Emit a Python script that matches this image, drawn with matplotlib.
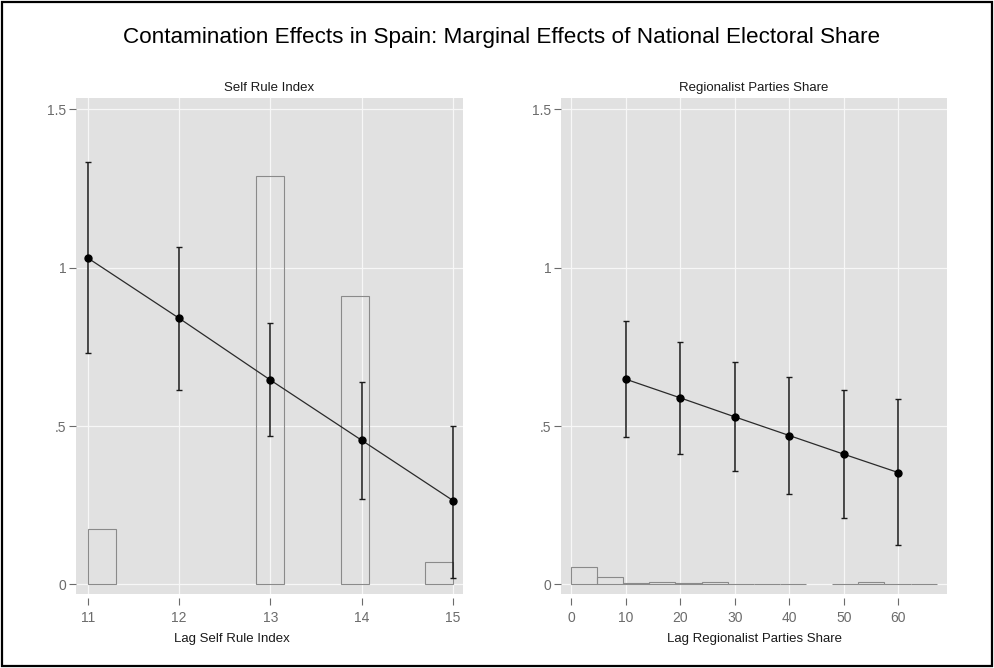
import matplotlib
matplotlib.use("Agg")
import matplotlib.pyplot as plt
import numpy as np
from matplotlib.patches import Rectangle

# ---- data ----
self_rule_x = [11, 12, 13, 14, 15]
self_rule_me = [1.03, 0.84, 0.645, 0.455, 0.265]
self_rule_lo = [0.73, 0.615, 0.47, 0.27, 0.02]
self_rule_hi = [1.332, 1.065, 0.825, 0.64, 0.50]
# histogram of lag self rule index: 13 bins over [11, 15]
self_rule_hist_range = (11, 15)
self_rule_hist = [0.175, 0, 0, 0, 0, 0, 1.29, 0, 0, 0.91, 0, 0, 0.07]

reg_x = [10, 20, 30, 40, 50, 60]
reg_me = [0.648, 0.589, 0.529, 0.470, 0.411, 0.353]
reg_lo = [0.464, 0.413, 0.357, 0.287, 0.211, 0.124]
reg_hi = [0.832, 0.764, 0.702, 0.655, 0.614, 0.584]
# histogram of lag regionalist share: 14 bins over [0, 67]
reg_hist_range = (0, 67)
reg_hist = [0.054, 0.023, 0.004, 0.008, 0.006, 0.008, 0.002,
            0.002, 0.001, 0.0, 0.002, 0.008, 0.002, 0.002]

y_ticks = [0, 0.5, 1, 1.5]
y_ticklabels = ["0", ".5", "1", "1.5"]

plt.rcParams["font.family"] = ["Liberation Sans", "DejaVu Sans"]

BG = "#e1e1e1"
TICK_COL = "#6b6b6b"


def draw_panel(ax, x, me, lo, hi, hist, hrange, xlim, xticks, title):
    ax.set_facecolor(BG)
    edges = np.linspace(hrange[0], hrange[1], len(hist) + 1)
    hist = np.asarray(hist, dtype=float)
    keep = hist > 0  # empty bins draw nothing
    ax.bar(edges[:-1][keep], hist[keep], width=np.diff(edges)[keep], align="edge",
           fill=False, edgecolor="#8a8a8a", linewidth=0.8, zorder=2)
    me = np.asarray(me)
    yerr = [me - np.asarray(lo), np.asarray(hi) - me]
    ax.errorbar(x, me, yerr=yerr, fmt="none", ecolor="#1a1a1a",
                elinewidth=1.1, capsize=2.5, capthick=1.0, zorder=3)
    ax.plot(x, me, color="#2a2a2a", lw=0.9, zorder=3)
    ax.plot(x, me, "o", color="black", ms=5, zorder=4)

    ax.set_xlim(*xlim)
    ax.set_ylim(-0.03, 1.535)
    ax.set_xticks(xticks)
    ax.set_yticks(y_ticks)
    ax.set_yticklabels(y_ticklabels)
    ax.grid(True, color="#f7f7f7", lw=0.9, zorder=0)
    ax.set_axisbelow(True)
    for s in ax.spines.values():
        s.set_visible(False)
    ax.spines["bottom"].set_position(("outward", 3))
    ax.tick_params(axis="both", colors=TICK_COL, labelsize=10,
                   length=5, width=0.8, direction="out")
    ax.tick_params(axis="x", pad=4)
    ax.tick_params(axis="y", pad=2)
    ax.set_title(title, fontsize=9.5, color="#1a1a1a", pad=5)


fig = plt.figure(figsize=(9.95, 6.68), dpi=100)
ax1 = fig.add_axes([76 / 995, 1 - 594 / 668, 387 / 995, 496 / 668])
ax2 = fig.add_axes([561 / 995, 1 - 594 / 668, 386 / 995, 496 / 668])

draw_panel(ax1, self_rule_x, self_rule_me, self_rule_lo, self_rule_hi,
           self_rule_hist, self_rule_hist_range, (10.87, 15.11),
           [11, 12, 13, 14, 15], "Self Rule Index")
draw_panel(ax2, reg_x, reg_me, reg_lo, reg_hi,
           reg_hist, reg_hist_range, (-1.83, 68.9),
           [0, 10, 20, 30, 40, 50, 60], "Regionalist Parties Share")

fig.text(232 / 995, 1 - 639 / 668, "Lag Self Rule Index",
         ha="center", va="center", fontsize=9.5, color="#1a1a1a")
fig.text(755 / 995, 1 - 639 / 668, "Lag Regionalist Parties Share",
         ha="center", va="center", fontsize=9.5, color="#1a1a1a")
fig.text(502 / 995, 1 - 38 / 668,
         "Contamination Effects in Spain: Marginal Effects of National Electoral Share",
         ha="center", va="center", fontsize=16.2, color="black")

fig.patches.append(Rectangle((0.002, 0.003), 0.995, 0.994, transform=fig.transFigure,
                             fill=False, edgecolor="black", linewidth=1.6))

fig.savefig("out.png", dpi=100)
